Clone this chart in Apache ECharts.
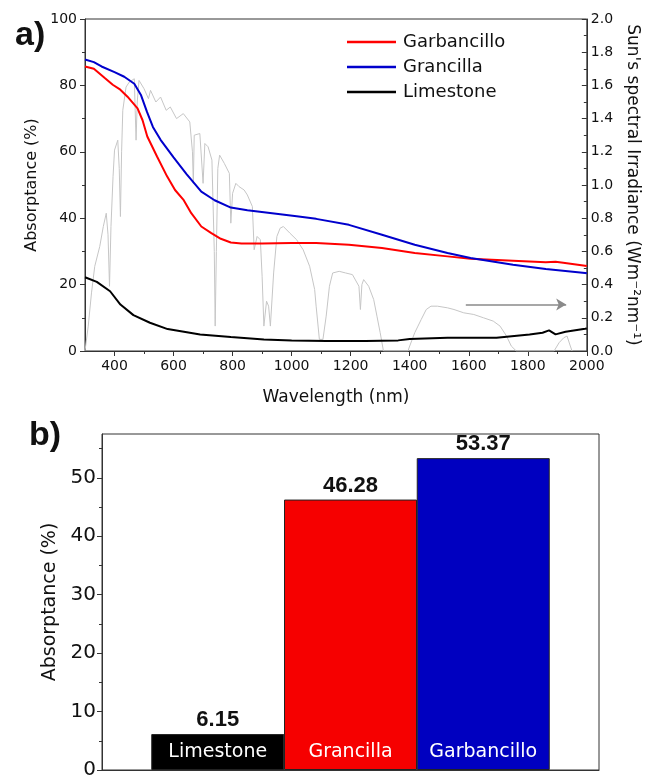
<!DOCTYPE html>
<html>
<head>
<meta charset="utf-8">
<script src="https://cdn.jsdelivr.net/npm/echarts@6/dist/echarts.min.js"></script>
<style>html,body{margin:0;padding:0;background:#fff}#c{width:649px;height:780px}</style>
</head>
<body>
<div id="c"></div>
<script>
// ---- panel a) absorptance curves ----
const garbX = [300,330,367,394,417,444,478,495,511,544,578,605,633,660,694,728,760,794,830,900,1000,1083,1194,1306,1417,1528,1606,1750,1861,1894,1920,1994,2000];
const garbY = [85.7,85.0,82.2,80.2,78.9,76.6,73.1,69.5,64.6,58.6,52.6,48.5,45.6,41.5,37.5,35.5,33.8,32.7,32.4,32.4,32.5,32.5,32.0,31.0,29.5,28.5,27.8,27.2,26.7,26.9,26.6,25.7,25.6];
const granX = [300,330,356,400,433,467,490,510,530,556,600,644,694,739,794,850,906,1017,1083,1194,1306,1417,1528,1606,1750,1861,1994,2000];
const granY = [87.8,87.0,85.7,84.0,82.6,80.5,77.0,72.0,67.5,63.6,58.3,53.3,48.0,45.4,43.2,42.4,41.8,40.6,39.8,38.0,35.0,32.0,29.5,28.0,26.0,24.7,23.5,23.4];
const limeX = [300,340,385,420,464,520,580,630,690,794,906,1000,1117,1250,1361,1400,1528,1694,1806,1850,1872,1894,1928,1994,2000];
const limeY = [22.2,20.8,18.0,14.0,10.8,8.5,6.6,5.9,5.0,4.2,3.5,3.2,3.0,3.0,3.2,3.6,4.0,4.0,5.0,5.5,6.2,5.0,5.8,6.7,6.8];
// Sun's spectral irradiance (right axis)
const sunX = [300,311,322,333,350,362,372,378,383,388,395,400,411,416,420,424,428,439,450,467,470,473,477,483,500,515,522,540,556,575,589,610,633,655,664,667,670,689,700,706,717,730,738,741,745,750,756,772,789,794,800,811,822,839,850,867,873,883,894,900,906,915,922,928,939,950,961,972,994,1017,1039,1061,1078,1083,1094,1106,1117,1128,1139,1161,1183,1206,1228,1233,1238,1244,1261,1278,1289,1300,1311,1394,1400,1417,1428,1439,1456,1472,1494,1528,1550,1583,1617,1650,1683,1706,1728,1744,1761,1889,1906,1922,1933,1944,1950];
const sunY = [0.0,0.15,0.35,0.51,0.63,0.75,0.83,0.70,0.39,0.75,1.05,1.21,1.27,1.10,0.81,1.20,1.45,1.59,1.62,1.64,1.45,1.27,1.50,1.63,1.58,1.52,1.57,1.50,1.53,1.45,1.47,1.40,1.43,1.38,1.20,1.01,1.30,1.31,1.01,1.25,1.23,1.15,0.60,0.15,0.60,1.10,1.18,1.13,1.07,0.77,0.95,1.01,0.99,0.97,0.94,0.87,0.61,0.69,0.67,0.45,0.15,0.30,0.27,0.15,0.47,0.69,0.74,0.75,0.71,0.67,0.61,0.51,0.37,0.27,0.07,0.07,0.21,0.39,0.47,0.48,0.47,0.46,0.39,0.25,0.40,0.43,0.39,0.31,0.21,0.11,0.0,0.0,0.03,0.11,0.15,0.19,0.25,0.27,0.27,0.26,0.25,0.23,0.22,0.20,0.18,0.15,0.09,0.03,0.0,0.0,0.05,0.08,0.09,0.03,0.0];
const arrowSpan = [1590, 1930];
const arrowLevel = 0.28;
const xTickLabels = [400,600,800,1000,1200,1400,1600,1800,2000];
const xMinorTicks = [500,700,900,1100,1300,1500,1700,1900];

// ---- panel b) bars ----
const barCategories = ['Limestone','Grancilla','Garbancillo'];
const barValues = [6.15, 46.28, 53.37];
const barColors = ['#000000','#f60000','#0000c0'];
const barYTicks = [0,10,20,30,40,50];
const barYMinor = [5,15,25,35,45,55];

const pair = (xs, ys) => xs.map((x, i) => [x, ys[i]]);
const FONT = 'DejaVu Sans';
const AX = '#333';

const chart = echarts.init(document.getElementById('c'), null, {renderer: 'canvas'});
chart.setOption({
  animation: false,
  backgroundColor: '#fff',
  title: [
    {text: 'a)', left: 10, top: 14, textStyle: {fontFamily: 'Liberation Sans', fontWeight: 'bold', fontSize: 34, color: '#111'}},
    {text: 'b)', left: 24, top: 414, textStyle: {fontFamily: 'Liberation Sans', fontWeight: 'bold', fontSize: 34, color: '#111'}}
  ],
  legend: {
    data: ['Garbancillo','Grancilla','Limestone'],
    orient: 'vertical', left: 342, top: 28,
    icon: 'rect', itemWidth: 49, itemHeight: 2.5, itemGap: 7,
    textStyle: {fontFamily: FONT, fontSize: 18, color: '#111', padding: [0,0,0,2]}
  },
  grid: [
    {left: 85, top: 19, width: 508, height: 332, show: true, borderColor: AX, borderWidth: 1, containLabel: false},
    {left: 102, top: 434, width: 497, height: 345, show: true, borderColor: AX, borderWidth: 1, containLabel: false}
  ],
  xAxis: [
    {gridIndex: 0, type: 'value', position: 'bottom', min: 300, max: 2000,
     name: 'Wavelength (nm)', nameLocation: 'middle', nameGap: 38,
     nameTextStyle: {fontFamily: FONT, fontSize: 17, color: '#111'},
     axisLine: {lineStyle: {color: AX, width: 1}},
     axisTick: {length: 5, customValues: xTickLabels, lineStyle: {color: AX}},
     axisLabel: {customValues: xTickLabels, fontFamily: FONT, fontSize: 14, color: '#111', margin: 8, formatter: v => String(v)},
     splitLine: {show: false}},
    {gridIndex: 0, type: 'value', position: 'bottom', min: 300, max: 2000,
     axisLine: {show: false},
     axisTick: {length: 3, customValues: xMinorTicks, lineStyle: {color: AX}},
     axisLabel: {show: false}, splitLine: {show: false}},
    {gridIndex: 1, type: 'value', position: 'bottom', min: 0.128, max: 3.872,
     axisLine: {lineStyle: {color: AX}}, axisTick: {show: false}, axisLabel: {show: false}, splitLine: {show: false}}
  ],
  yAxis: [
    {gridIndex: 0, type: 'value', position: 'left', min: 0, max: 100, interval: 20,
     name: 'Absorptance (%)', nameLocation: 'middle', nameGap: 34, nameRotate: 90,
     nameTextStyle: {fontFamily: FONT, fontSize: 16, color: '#111'},
     axisLine: {show: true, lineStyle: {color: AX}},
     axisTick: {length: 5, lineStyle: {color: AX}},
     minorTick: {show: true, splitNumber: 2, length: 3, lineStyle: {color: AX}},
     axisLabel: {fontFamily: FONT, fontSize: 14, color: '#111', margin: 8},
     splitLine: {show: false}, minorSplitLine: {show: false}},
    {gridIndex: 0, type: 'value', position: 'right', min: 0, max: 2, interval: 0.2,
     name: "Sun's spectral Irradiance (Wm\u207B\u00B2nm\u207B\u00B9)", nameLocation: 'middle', nameGap: 30, nameRotate: -90,
     nameTextStyle: {fontFamily: FONT, fontSize: 17, color: '#111'},
     axisLine: {show: true, lineStyle: {color: AX}},
     axisTick: {inside: true, length: 5, lineStyle: {color: AX}},
     minorTick: {show: true, splitNumber: 2, length: 3, lineStyle: {color: AX}},
     axisLabel: {fontFamily: FONT, fontSize: 14, color: '#111', margin: 4, formatter: v => v.toFixed(1)},
     splitLine: {show: false}},
    {gridIndex: 1, type: 'value', position: 'left', min: 0, max: 57.5,
     name: 'Absorptance (%)', nameLocation: 'middle', nameGap: 40, nameRotate: 90,
     nameTextStyle: {fontFamily: FONT, fontSize: 19, color: '#111'},
     axisLine: {show: true, lineStyle: {color: AX}},
     axisTick: {length: 5, customValues: barYTicks, lineStyle: {color: AX}},
     axisLabel: {customValues: barYTicks, fontFamily: FONT, fontSize: 20, color: '#111', margin: 6},
     splitLine: {show: false}},
    {gridIndex: 1, type: 'value', position: 'left', min: 0, max: 57.5,
     axisLine: {show: false},
     axisTick: {length: 3, customValues: barYMinor, lineStyle: {color: AX}},
     axisLabel: {show: false}, splitLine: {show: false}}
  ],
  series: [
    {name: 'Sun', type: 'line', xAxisIndex: 0, yAxisIndex: 1, data: pair(sunX, sunY),
     showSymbol: false, symbol: 'none', z: 1,
     lineStyle: {color: '#c6c6c6', width: 1},
     markLine: {silent: true, symbol: ['none','arrow'], symbolSize: [9, 10],
       label: {show: false},
       lineStyle: {color: '#8a8a8a', width: 1.5, type: 'solid'},
       data: [[{coord: [arrowSpan[0], arrowLevel]}, {coord: [arrowSpan[1], arrowLevel]}]]}},
    {name: 'Garbancillo', type: 'line', xAxisIndex: 0, yAxisIndex: 0, data: pair(garbX, garbY),
     showSymbol: false, symbol: 'none', z: 3, color: '#ff0000', lineStyle: {color: '#ff0000', width: 2}},
    {name: 'Grancilla', type: 'line', xAxisIndex: 0, yAxisIndex: 0, data: pair(granX, granY),
     showSymbol: false, symbol: 'none', z: 3, color: '#0000cc', lineStyle: {color: '#0000cc', width: 2}},
    {name: 'Limestone', type: 'line', xAxisIndex: 0, yAxisIndex: 0, data: pair(limeX, limeY),
     showSymbol: false, symbol: 'none', z: 3, color: '#000000', lineStyle: {color: '#000000', width: 2}},
    {name: 'barsValue', type: 'bar', xAxisIndex: 2, yAxisIndex: 2, barWidth: 133, barGap: '-100%',
     data: barValues.map((v, i) => ({value: [i + 1, v], itemStyle: {color: barColors[i]}})),
     itemStyle: {borderColor: '#222', borderWidth: 1},
     label: {show: true, position: 'top', distance: 3, fontFamily: 'Liberation Sans', fontWeight: 'bold', fontSize: 22, color: '#111',
       formatter: p => p.value[1].toFixed(2)}},
    {name: 'barsName', type: 'bar', xAxisIndex: 2, yAxisIndex: 2, barWidth: 133, barGap: '-100%',
     data: barValues.map((v, i) => ({value: [i + 1, v], name: barCategories[i]})),
     itemStyle: {color: 'rgba(0,0,0,0)'},
     label: {show: true, position: 'insideBottom', distance: 8, fontFamily: FONT, fontSize: 19, color: '#fff',
       formatter: p => barCategories[p.dataIndex]}}
  ]
});
</script>
</body>
</html>
